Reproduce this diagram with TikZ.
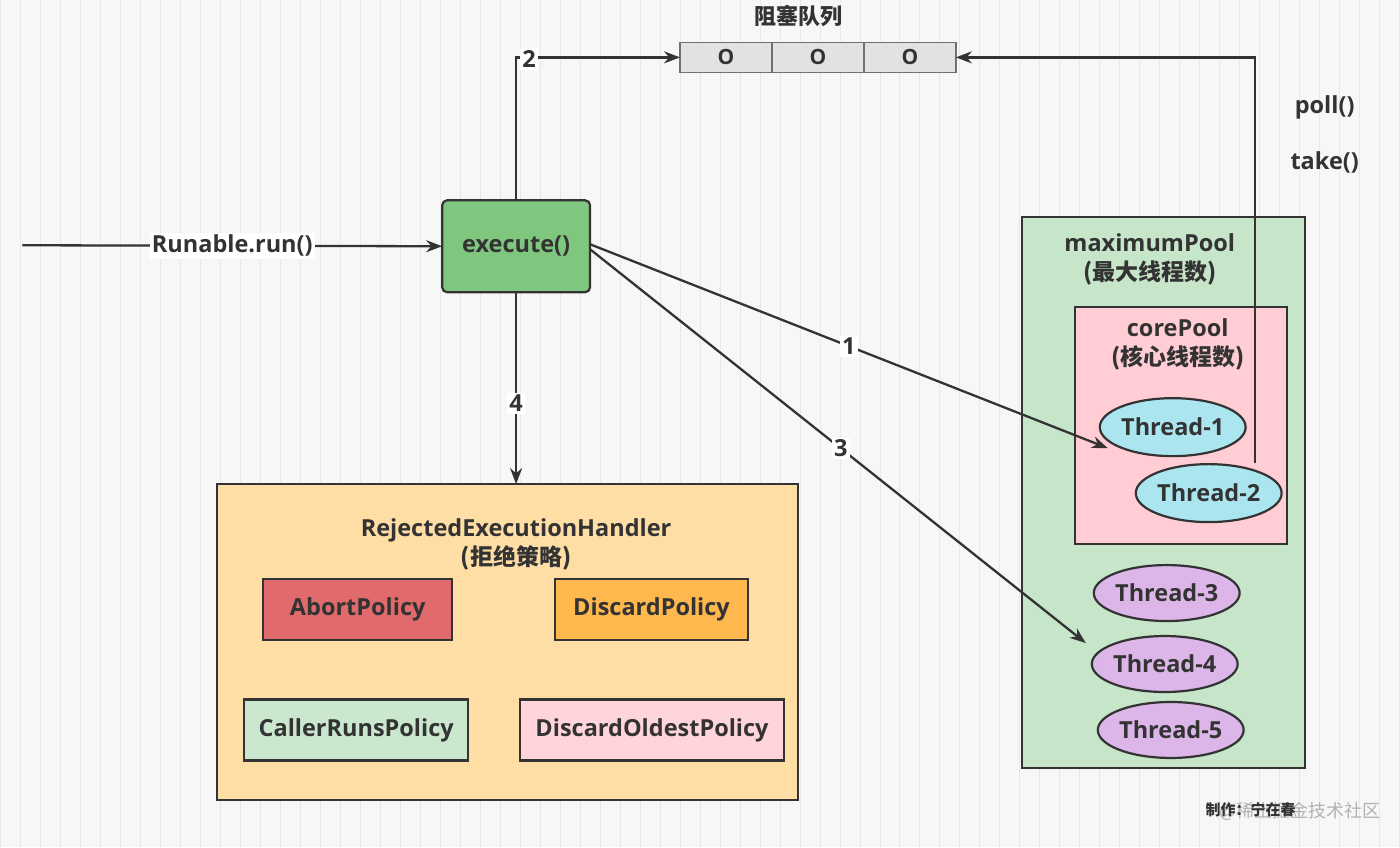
\documentclass[tikz,border=0pt]{standalone}
\usepackage{fontspec}
\setmainfont{Open Sans}
\newfontfamily\cjk{Noto Sans CJK SC}
\usepackage{xcolor}
\usepackage{tikz}
\usetikzlibrary{arrows.meta, positioning, calc, shapes.geometric}

\definecolor{bgc}{HTML}{F7F7F7}
\definecolor{gridc}{HTML}{E9E9E9}
\definecolor{ink}{HTML}{333333}
\definecolor{txt}{HTML}{333333}
\definecolor{cellc}{HTML}{E2E2E2}
\definecolor{execc}{HTML}{7FC77F}
\definecolor{maxc}{HTML}{C6E5C9}
\definecolor{corec}{HTML}{FFCDD3}
\definecolor{coret}{HTML}{ABE5EF}
\definecolor{extrat}{HTML}{DCB6E8}
\definecolor{handc}{HTML}{FFDEA6}
\definecolor{abortc}{HTML}{E16A6C}
\definecolor{discardc}{HTML}{FFB84D}
\definecolor{callerc}{HTML}{CBE8CF}
\definecolor{oldestc}{HTML}{FFD5DB}

\begin{document}
\begin{tikzpicture}[
    x=1pt, y=-1pt,
    every node/.style={text=txt, font=\bfseries\fontsize{23.5}{29}\selectfont},
    gridline/.style={line width=0.8pt, draw=gridc},
    frame/.style={draw=ink, line width=2.2pt, outer sep=0pt},
    cell/.style={draw=ink!70, line width=1.4pt, outer sep=0pt, fill=cellc, minimum width=92, minimum height=30, inner sep=0pt, font=\bfseries\fontsize{21}{24}\selectfont},
    policy/.style={frame, minimum height=61, inner sep=0pt},
    thread/.style={ellipse, frame, minimum width=140, minimum height=58, inner sep=0pt},
    flowline/.style={line width=2.3pt, draw=ink, -{Stealth[length=16pt,width=12pt]}},
    tag/.style={fill=white, inner sep=2pt}
]

% Background grid
\fill[bgc] (0,0) rectangle (1400,847);
\draw[gridline] (0,0) grid[step=20] (1400,847);
\useasboundingbox (0,0) rectangle (1400,847);

% Blocking queue
\node[cell] (q1) at (726,57) {O};
\node[cell, right=0pt of q1] (q2) {O};
\node[cell, right=0pt of q2] (q3) {O};
\node (qlabel) at (799,16) {\cjk\fontsize{22}{26}\selectfont 阻塞队列};

% Containers
\node[frame, fill=maxc, minimum width=283, minimum height=551] (maxpool) at (1163.5,492.5) {};
\node[align=center] (maxlabel) at (1150,259) {maximumPool\\{\cjk\fontsize{23}{29}\selectfont (最大线程数)}};
\node[frame, fill=corec, minimum width=212, minimum height=237] (corepool) at (1181,425.5) {};
\node[align=center] (corelabel) at (1178,344) {corePool\\{\cjk\fontsize{23}{29}\selectfont (核心线程数)}};
\node[frame, fill=handc, minimum width=581, minimum height=316] (handler) at (507.5,642) {};
\node[align=center] (handlabel) at (516,544) {RejectedExecutionHandler\\{\cjk\fontsize{23}{29}\selectfont (拒绝策略)}};

% Threads
\node[thread, fill=coret] (t1) at (1173,427) {Thread-1};
\node[thread, fill=coret] (t2) at (1209,493) {Thread-2};
\node[thread, fill=extrat, minimum width=144, minimum height=56] (t3) at (1167,593) {Thread-3};
\node[thread, fill=extrat, minimum width=122, minimum height=56] (t4) at (1165,664) {Thread-4};
\node[thread, fill=extrat, minimum width=132, minimum height=56] (t5) at (1171,730) {Thread-5};

% Policies
\node[policy, fill=abortc, minimum width=189] (abort) at (357.5,609.5) {AbortPolicy};
\node[policy, fill=discardc, minimum width=193] (discard) at (651.5,609.5) {DiscardPolicy};
\node[policy, fill=callerc, minimum width=224] (caller) at (356,730) {CallerRunsPolicy};
\node[policy, fill=oldestc, minimum width=264] (oldest) at (652,730) {DiscardOldestPolicy};

% execute
\node[frame, rounded corners=5pt, fill=execc, minimum width=148, minimum height=92] (exec) at (516,246) {execute()};

% Flows
\coordinate (src) at (22,245);
\coordinate (hit1) at (1108,448);
\coordinate (hit3) at (1086,643);
\coordinate (t2out) at (1255,463);
\draw[flowline] (src) -- node[tag] {Runable.run()} (exec.west);
\draw[flowline] (exec.north) |- node[tag, pos=0.5, anchor=west, xshift=3pt, yshift=-2pt] {2} (q1.west);
\draw[flowline] (exec.south) -- node[tag, pos=0.58] {4} (exec.south |- handler.north);
\draw[flowline] ([yshift=2pt]exec.east) -- node[tag, pos=0.5] {1} (hit1);
\draw[flowline] ([yshift=-3pt]exec.east) -- node[tag, pos=0.506] {3} (hit3);
\draw[flowline] (t2out) |- (q3.east);
\node (poll) at (1325,107) {poll()};
\node (take) at (1325,162) {take()};

% Credit
\node[text=black!30, font=\fontsize{18}{20}\selectfont] (mark) at (1300,811) {\cjk @稀土掘金技术社区};
\node[font=\bfseries\fontsize{15}{18}\selectfont] (credit) at (1251,810) {\cjk 制作：宁在春};

\end{tikzpicture}
\end{document}
